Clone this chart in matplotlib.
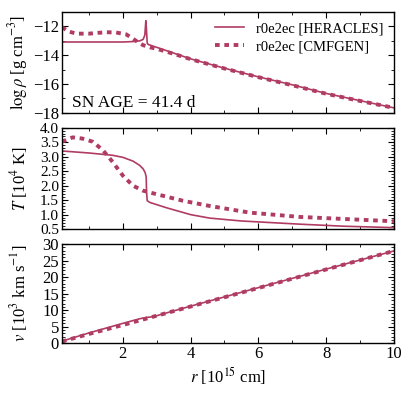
import numpy as np
import matplotlib
matplotlib.use("Agg")
import matplotlib.pyplot as plt
from matplotlib.ticker import MultipleLocator

plt.rcParams['font.family'] = ['Liberation Serif', 'DejaVu Serif']
plt.rcParams['mathtext.fontset'] = 'stix'
plt.rcParams['font.size'] = 12

# ---------------------------------
# Data
# ---------------------------------
# density, HERACLES
r_rho_h = [0.2, 1.0, 2.0, 2.3, 2.5, 2.6, 2.65, 2.68, 2.70, 2.72, 2.75, 3.0, 3.5, 4.0, 5.0, 6.0, 7.0, 8.0, 9.0, 10.0]
rho_h = [-13.08, -13.08, -13.08, -13.05, -13.0, -12.9, -12.6, -11.6, -12.3, -13.15, -13.25, -13.45, -13.85, -14.25, -14.9, -15.5, -16.05, -16.65, -17.15, -17.65]
# density, CMFGEN
r_rho_c = [0.2, 0.4, 0.63, 1.0, 1.5, 1.8, 2.1, 2.3, 2.45, 2.6, 2.8, 3.0, 3.5, 4.0, 5.0, 6.0, 7.0, 8.0, 9.0, 10.0]
rho_c = [-12.05, -12.35, -12.5, -12.5, -12.4, -12.42, -12.55, -12.85, -13.1, -13.3, -13.45, -13.55, -13.9, -14.27, -14.92, -15.52, -16.08, -16.67, -17.17, -17.65]

# temperature [10^4 K], HERACLES
r_T_h = [0.2, 1.0, 1.7, 2.0, 2.3, 2.5, 2.6, 2.66, 2.69, 2.70, 2.72, 2.8, 3.28, 4.0, 4.56, 5.5, 7.22, 8.5, 10.0]
T_h = [3.2, 3.13, 3.05, 2.98, 2.85, 2.7, 2.58, 2.45, 2.3, 1.8, 1.48, 1.42, 1.24, 1.0, 0.88, 0.78, 0.67, 0.6, 0.55]
# temperature, CMFGEN
r_T_c = [0.2, 0.52, 0.8, 1.11, 1.41, 1.7, 2.0, 2.3, 2.59, 2.98, 3.77, 4.56, 5.74, 7.22, 8.7, 10.0]
T_c = [3.52, 3.67, 3.63, 3.52, 3.23, 2.82, 2.35, 2.0, 1.83, 1.71, 1.48, 1.3, 1.07, 0.92, 0.84, 0.77]

# velocity [10^3 km/s]
r_v_h = [0.2, 1.0, 2.0, 2.5, 2.7, 2.9, 3.2, 4.0, 6.0, 8.0, 10.0]
v_h = [0.6, 3.1, 6.0, 7.4, 7.8, 8.0, 8.9, 11.2, 16.8, 22.4, 27.9]
r_v_c = [0.2, 1.0, 2.0, 3.0, 4.0, 6.0, 8.0, 10.0]
v_c = [0.5, 2.8, 5.5, 8.3, 11.1, 16.7, 22.3, 27.9]

color = '#b03c62'

fig = plt.figure(figsize=(4.15, 4.15), dpi=100)
ax1 = fig.add_axes([0.149, 0.728, 0.80, 0.243])
ax2 = fig.add_axes([0.149, 0.448, 0.80, 0.244])
ax3 = fig.add_axes([0.149, 0.173, 0.80, 0.239])

ax1.plot(r_rho_h, rho_h, color=color, lw=1.2, label='r0e2ec [HERACLES]')
ax1.plot(r_rho_c, rho_c, color=color, lw=2.8, ls=(0, (1.2, 1.2)), label='r0e2ec [CMFGEN]')
ax1.set_ylim(-18, -11)
ax1.yaxis.set_major_locator(MultipleLocator(2))
ax1.yaxis.set_minor_locator(MultipleLocator(1))
ax1.set_ylabel(r'$\log\rho$ [g cm$^{-3}$]')
ax1.text(0.03, 0.06, 'SN AGE = 41.4 d', transform=ax1.transAxes, fontsize=12.5)
ax1.legend(loc='upper right', frameon=False, fontsize=10.5, handlelength=2.0,
           borderaxespad=0.3, labelspacing=0.3)

ax2.plot(r_T_h, T_h, color=color, lw=1.2)
ax2.plot(r_T_c, T_c, color=color, lw=2.8, ls=(0, (1.2, 1.2)))
ax2.set_ylim(0.5, 4.0)
ax2.yaxis.set_major_locator(MultipleLocator(0.5))
ax2.yaxis.set_minor_locator(MultipleLocator(0.1))
ax2.set_ylabel(r'$T$ [10$^4$ K]')

ax3.plot(r_v_h, v_h, color=color, lw=1.2)
ax3.plot(r_v_c, v_c, color=color, lw=2.8, ls=(0, (1.2, 1.2)))
ax3.set_ylim(0, 30)
ax3.yaxis.set_major_locator(MultipleLocator(5))
ax3.yaxis.set_minor_locator(MultipleLocator(1))
ax3.set_ylabel(r'$v$ [10$^3$ km s$^{-1}$]')
ax3.set_xlabel(r'$r$ [10$^{15}$ cm]', labelpad=2)

for ax in (ax1, ax2, ax3):
    ax.set_xlim(0.2, 10)
    ax.xaxis.set_major_locator(MultipleLocator(2))
    ax.xaxis.set_minor_locator(MultipleLocator(1))
    ax.tick_params(which='both', direction='in', top=True, right=True, labelsize=12, pad=2)
    ax.tick_params(which='major', length=4)
    ax.tick_params(which='minor', length=2.5)
    for s in ax.spines.values():
        s.set_linewidth(1.0)
    ax.yaxis.set_label_coords(-0.095, 0.5)
for ax in (ax1, ax2):
    ax.tick_params(labelbottom=False)
# the 0.5 steps are tightly packed, slightly smaller labels there
ax2.tick_params(axis='y', labelsize=11)

fig.savefig('out.png', dpi=100)
